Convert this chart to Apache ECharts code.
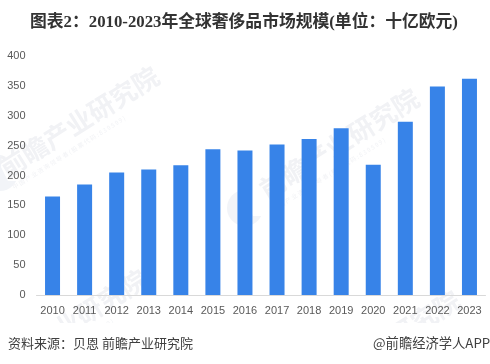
<!DOCTYPE html>
<html><head><meta charset="utf-8">
<style>html,body{margin:0;padding:0;background:#fff}#c{width:490px;height:364px}</style>
<script src="https://cdn.jsdelivr.net/npm/echarts@6/dist/echarts.min.js"></script></head>
<body><div id="c"></div>
<script>
const categories=['2010','2011','2012','2013','2014','2015','2016','2017','2018','2019','2020','2021','2022','2023'];
const values=[165,185,205,210,217,244,242,252,261,279,218,290,349,362];
const yTicks={min:0,max:400,interval:50};
const titleText='图表2:2010-2023年全球奢侈品市场规模(单位:十亿欧元)'.replace(/:/g,'\uFF1A');
const sourceText='资料来源\uFF1A贝恩 前瞻产业研究院';
const brandText='@前瞻经济学人APP';
const markText='前瞻产业研究院';
const subMarkText='中 国 产 业 咨 询 领 导 者 ( 股 票 代 码 : 8 3 9 5 9 9 )';
const marks=[[2,170],[262,192],[-10,373],[303,394]];
const logos=[[0,173],[245,208]];
const cjk='"Noto Sans CJK SC","Liberation Sans",sans-serif';
const wmColor='#f1f2f5';
const wm=[];
logos.forEach(p=>{
  wm.push({type:'circle',silent:true,z:-1,shape:{cx:p[0],cy:p[1],r:18},style:{fill:'#f2f4f8'}});
  wm.push({type:'polygon',silent:true,z:-1,shape:{points:[[p[0]+2,p[1]-20],[p[0]+20,p[1]-10],[p[0]+20,p[1]+8],[p[0]+8,p[1]+8],[p[0]+1,p[1]-6]]},style:{fill:'#fff'}});
});
marks.forEach(p=>{
  wm.push({type:'text',silent:true,z:-1,x:p[0],y:p[1],rotation:0.56,originX:0,originY:0,
    style:{text:markText,font:'bold 26px '+cjk,fill:wmColor,verticalAlign:'middle'}});
  const a=0.56;
  wm.push({type:'text',silent:true,z:-1,x:p[0]+26*Math.sin(a)*0.8,y:p[1]+26*Math.cos(a)*0.8,rotation:a,originX:0,originY:0,
    style:{text:subMarkText,font:'6px '+cjk,fill:wmColor,verticalAlign:'middle'}});
});
wm.push({type:'rect',silent:true,z:-1,shape:{x:0,y:323,width:490,height:41},style:{fill:'#fff'}});
const chart=echarts.init(document.getElementById('c'),null,{renderer:'canvas'});
chart.setOption({
  animation:false,backgroundColor:'#fff',
  title:{text:titleText,left:30,top:14,padding:0,textStyle:{fontFamily:'"Liberation Serif","Noto Sans CJK SC",serif',fontSize:16.8,fontWeight:'bold',color:'#333'}},
  grid:{left:36.5,right:4.5,top:56,bottom:69},
  xAxis:{type:'category',data:categories,boundaryGap:true,
    axisLine:{show:true,lineStyle:{color:'#d9d9d9',width:1}},axisTick:{show:false},
    axisLabel:{interval:0,margin:10,fontSize:11,color:'#595959',fontFamily:'"Liberation Sans",sans-serif'}},
  yAxis:{type:'value',min:yTicks.min,max:yTicks.max,interval:yTicks.interval,
    axisLine:{show:false},axisTick:{show:false},splitLine:{show:false},
    axisLabel:{margin:11,fontSize:11,color:'#595959',fontFamily:'"Liberation Sans",sans-serif'}},
  series:[{type:'bar',data:values,barWidth:15,itemStyle:{color:'#3783E8'}}],
  graphic:wm.concat([
    {type:'text',x:8,y:343,style:{text:sourceText,font:'13px '+cjk,fill:'#404040',verticalAlign:'middle'}},
    {type:'text',x:373,y:343,style:{text:brandText,font:'13.3px '+cjk,fill:'#404040',verticalAlign:'middle'}}
  ])
});
</script></body></html>
